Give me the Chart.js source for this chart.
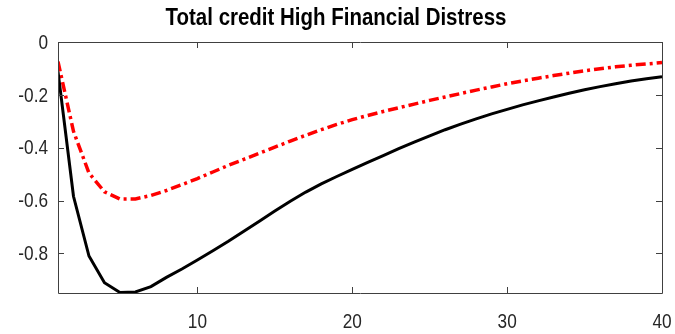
<!DOCTYPE html>
<html>
<head>
<meta charset="utf-8">
<script src="https://cdn.jsdelivr.net/npm/chart.js@4"></script>
<style>
  html, body { margin: 0; padding: 0; background: #ffffff; }
  #wrap { width: 675px; height: 334px; }
</style>
</head>
<body>
<div id="wrap"><canvas id="c" width="675" height="334"></canvas></div>
<script>
// Horizon (quarters after the shock)
const periods = [1,2,3,4,5,6,7,8,9,10,11,12,13,14,15,16,17,18,19,20,
                 21,22,23,24,25,26,27,28,29,30,31,32,33,34,35,36,37,38,39,40];

// Response of total credit, high financial distress regime
const responseSolid = [-0.112,-0.584,-0.810,-0.911,-0.948,-0.946,-0.926,-0.891,-0.859,-0.825,
                       -0.790,-0.754,-0.716,-0.678,-0.640,-0.603,-0.568,-0.537,-0.509,-0.482,
                       -0.456,-0.430,-0.404,-0.379,-0.355,-0.332,-0.311,-0.291,-0.272,-0.255,
                       -0.238,-0.223,-0.208,-0.194,-0.181,-0.169,-0.158,-0.148,-0.139,-0.131];

const responseDashed = [-0.074,-0.338,-0.496,-0.567,-0.594,-0.594,-0.581,-0.562,-0.540,-0.517,
                        -0.492,-0.467,-0.444,-0.421,-0.398,-0.375,-0.353,-0.332,-0.312,-0.294,
                        -0.278,-0.263,-0.249,-0.235,-0.221,-0.208,-0.195,-0.182,-0.170,-0.158,
                        -0.147,-0.137,-0.127,-0.118,-0.109,-0.101,-0.094,-0.088,-0.083,-0.078];

const xTicks = [10, 20, 30, 40];
const xTickLabels = ['10', '20', '30', '40'];
const yTicks = [0, -0.2, -0.4, -0.6, -0.8];
const yTickLabels = ['0', '-0.2', '-0.4', '-0.6', '-0.8'];

const titleText = 'Total credit High Financial Distress';
const axisColor = '#404040';
const labelColor = '#262626';
const FONT = "'Liberation Sans', Arial, sans-serif";
const SQUEEZE = 0.82; // horizontal condensing of the axis text

// Draws text horizontally condensed around its anchor point
function condensedText(ctx, text, x, y, align, squeeze) {
  ctx.save();
  ctx.translate(x, y);
  ctx.scale(squeeze, 1);
  ctx.textAlign = align;
  ctx.fillText(text, 0, 0);
  ctx.restore();
}

// Boxed axes with inward tick marks on all four sides, tick labels and title
const boxAxes = {
  id: 'boxAxes',
  afterDatasetsDraw(chart) {
    const { ctx, chartArea: a, scales: { x, y } } = chart;
    const len = 6;
    ctx.save();
    ctx.strokeStyle = axisColor;
    ctx.lineWidth = 1;
    ctx.beginPath();
    ctx.rect(Math.round(a.left) + 0.5, Math.round(a.top) + 0.5,
             Math.round(a.right - a.left), Math.round(a.bottom - a.top));
    xTicks.forEach(v => {
      const px = Math.round(x.getPixelForValue(v)) + 0.5;
      ctx.moveTo(px, a.bottom); ctx.lineTo(px, a.bottom - len);
      ctx.moveTo(px, a.top); ctx.lineTo(px, a.top + len);
    });
    yTicks.forEach(v => {
      const py = Math.round(y.getPixelForValue(v)) + 0.5;
      ctx.moveTo(a.left, py); ctx.lineTo(a.left + len, py);
      ctx.moveTo(a.right, py); ctx.lineTo(a.right - len, py);
    });
    ctx.stroke();

    // tick labels
    ctx.fillStyle = labelColor;
    ctx.font = `21px ${FONT}`;
    ctx.textBaseline = 'middle';
    yTicks.forEach((v, i) => {
      condensedText(ctx, yTickLabels[i], a.left - 10, y.getPixelForValue(v) + 1, 'right', SQUEEZE);
    });
    xTicks.forEach((v, i) => {
      condensedText(ctx, xTickLabels[i], x.getPixelForValue(v), a.bottom + 29, 'center', SQUEEZE);
    });

    // title
    ctx.fillStyle = '#000000';
    ctx.font = `bold 23px ${FONT}`;
    condensedText(ctx, titleText, 336, 19, 'center', 0.89);
    ctx.restore();
  }
};

new Chart(document.getElementById('c'), {
  type: 'line',
  data: {
    datasets: [
      {
        label: 'High distress',
        data: periods.map((p, i) => ({ x: p, y: responseSolid[i] })),
        borderColor: '#000000',
        borderWidth: 3,
        pointRadius: 0,
        tension: 0,
        fill: false
      },
      {
        label: 'High distress (alt.)',
        data: periods.map((p, i) => ({ x: p, y: responseDashed[i] })),
        borderColor: '#ff0000',
        borderWidth: 3.5,
        borderDash: [10, 4, 3, 4],
        pointRadius: 0,
        tension: 0,
        fill: false
      }
    ]
  },
  options: {
    responsive: false,
    animation: false,
    events: [],
    layout: { padding: { left: 0, right: 13, top: 42, bottom: 0 } },
    plugins: {
      legend: { display: false },
      tooltip: { enabled: false },
      title: { display: false }
    },
    scales: {
      x: {
        type: 'linear',
        min: 1,
        max: 40,
        grid: { display: false, drawTicks: false },
        border: { display: false },
        afterBuildTicks(scale) { scale.ticks = xTicks.map(v => ({ value: v })); },
        afterFit(scale) { scale.height = 41; },
        ticks: { display: false }
      },
      y: {
        type: 'linear',
        min: -0.95,
        max: 0,
        grid: { display: false, drawTicks: false },
        border: { display: false },
        afterBuildTicks(scale) { scale.ticks = yTicks.map(v => ({ value: v })); },
        afterFit(scale) { scale.width = 58; },
        ticks: { display: false }
      }
    }
  },
  plugins: [boxAxes]
});
</script>
</body>
</html>
